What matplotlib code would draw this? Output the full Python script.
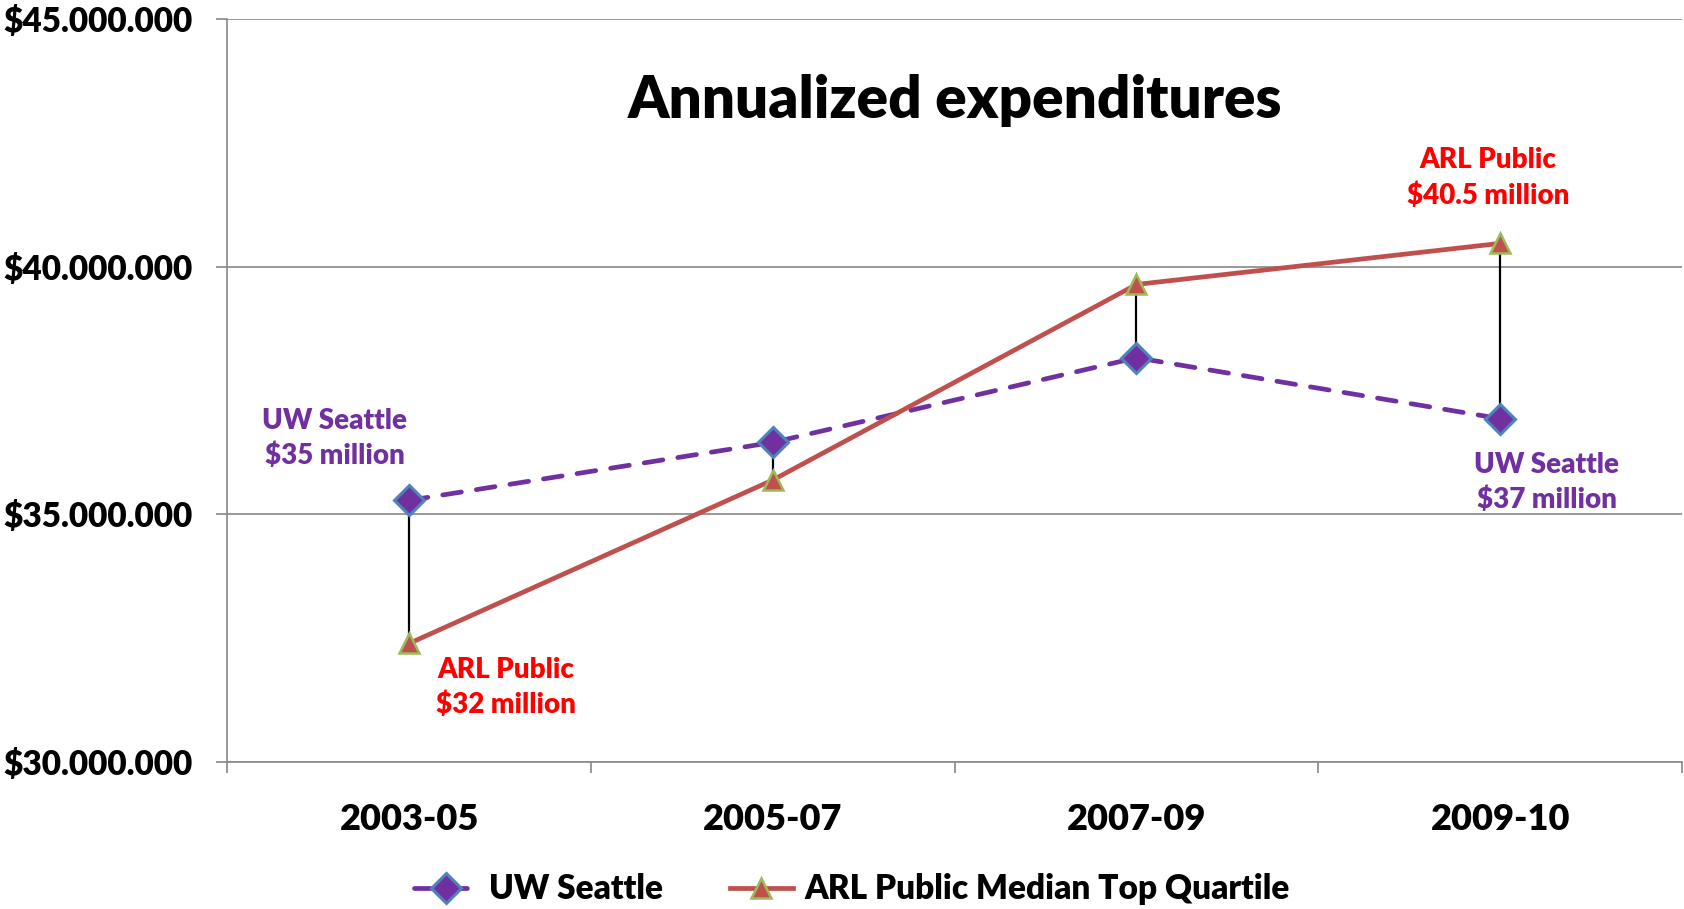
import matplotlib
matplotlib.use("Agg")
import matplotlib.pyplot as plt
from matplotlib.ticker import FuncFormatter

plt.rcParams['font.family'] = ['Lato', 'DejaVu Sans']
plt.rcParams['font.weight'] = 'heavy'

periods = ["2003-05", "2005-07", "2007-09", "2009-10"]
uw_seattle = [35280000, 36450000, 38160000, 36930000]
arl_public = [32390000, 35690000, 39640000, 40470000]

purple = "#7030A0"
red_line = "#C0504D"

fig = plt.figure(figsize=(16.84, 9.09), dpi=100)
ax = fig.add_axes([0.135, 0.162, 0.8638, 0.817])

x = list(range(len(periods)))

# black connectors between the two series
for i in x:
    ax.plot([i, i], [uw_seattle[i], arl_public[i]], color="black", lw=1.6, zorder=2)

ax.plot(x, uw_seattle, color=purple, lw=3.4, ls=(0, (4, 3.2)), dash_capstyle="round",
        marker="D", ms=15, markerfacecolor=purple, markeredgecolor="#4F81BD", markeredgewidth=2.2,
        label="UW Seattle", zorder=3)
ax.plot(x, arl_public, color=red_line, lw=3.4, marker="^", ms=14,
        markerfacecolor=red_line, markeredgecolor="#9BBB59", markeredgewidth=1.8,
        label="ARL Public Median Top Quartile", zorder=3)

ax.set_xlim(-0.5, 3.5)
ax.set_ylim(30000000, 45000000)
ax.set_yticks([30000000, 35000000, 40000000, 45000000])
ax.yaxis.set_major_formatter(FuncFormatter(lambda v, p: "$" + format(int(v), ",").replace(",", ".")))
ax.set_xticks(x)
ax.set_xticklabels(periods)
ax.set_xticks([-0.5, 0.5, 1.5, 2.5, 3.5], minor=True)
ax.tick_params(axis="x", which="major", length=0, pad=30, labelsize=26)
ax.tick_params(axis="x", which="minor", length=8, color="#888888", width=1.2)
ax.tick_params(axis="y", length=8, color="#888888", width=1.2, labelsize=24, pad=17)

ax.grid(axis="y", color="#888888", lw=1.2)
ax.set_axisbelow(True)
for s in ["top", "right"]:
    ax.spines[s].set_visible(False)
ax.spines["left"].set_color("#888888")
ax.spines["bottom"].set_color("#888888")
ax.spines["left"].set_linewidth(1.2)
ax.spines["bottom"].set_linewidth(1.2)

ax.text(1.5, 43350000, "Annualized expenditures", ha="center", va="center",
        fontsize=42, fontweight="heavy")

ax.text(-0.205, 36530000, "UW Seattle\n$35 million", color=purple, ha="center", va="center",
        fontsize=20, linespacing=1.4)
ax.text(0.265, 31500000, "ARL Public\n$32 million", color="red", ha="center", va="center",
        fontsize=20, linespacing=1.4)
ax.text(2.966, 41790000, "ARL Public\n$40.5 million", color="red", ha="center", va="center",
        fontsize=20, linespacing=1.4)
ax.text(3.128, 35640000, "UW Seattle\n$37 million", color=purple, ha="center", va="center",
        fontsize=20, linespacing=1.4)

fig.legend(loc="lower center", bbox_to_anchor=(0.506, -0.029), ncol=2, frameon=False,
           fontsize=24, handlelength=1.9, handletextpad=0.35, columnspacing=2.0)

fig.savefig("out.png", dpi=100)
